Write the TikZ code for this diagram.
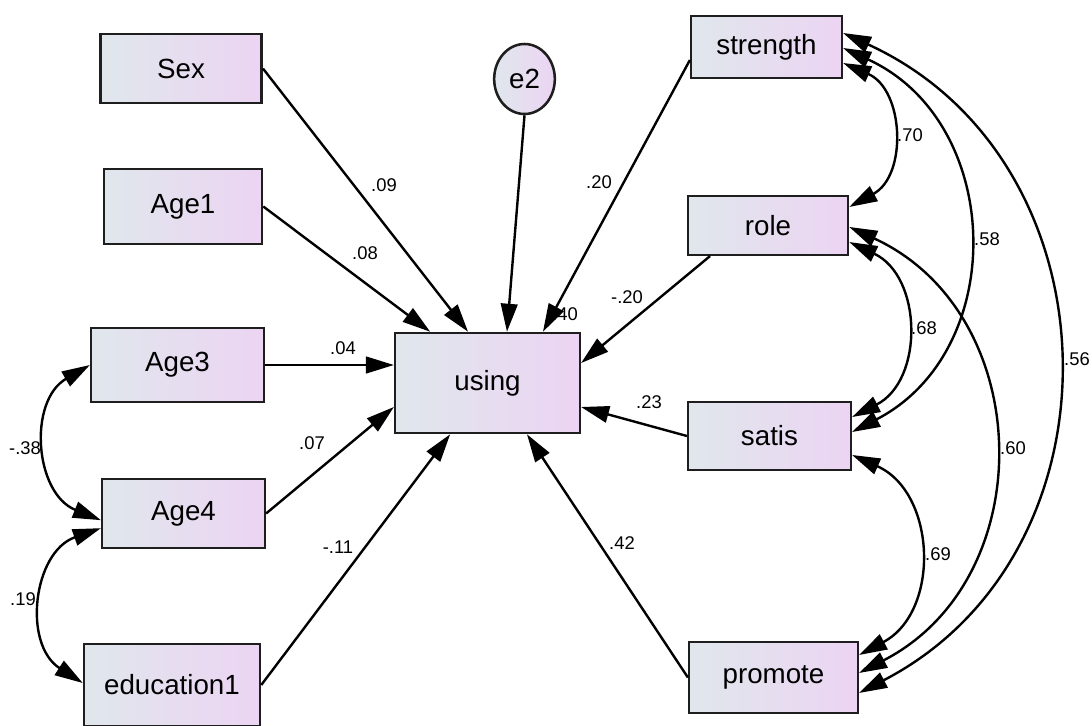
\documentclass[tikz,border=0pt]{standalone}
\usepackage{fontspec}
\setmainfont{Liberation Sans}
\usepackage{xcolor}
\usepackage{tikz}
\usetikzlibrary{arrows.meta, positioning, shapes.geometric}

\definecolor{boxleft}{RGB}{224,231,236}
\definecolor{boxright}{RGB}{236,212,243}
\definecolor{edgegray}{RGB}{30,30,30}

\begin{document}
\begin{tikzpicture}[x=0.75pt, y=0.75pt,
    obs/.style={draw=edgegray, line width=1.9pt, left color=boxleft, right color=boxright,
        font=\fontsize{20.8}{24}\selectfont, inner sep=0pt},
    reg/.style={-{Triangle[length=21pt,width=12.5pt]}, line width=1.8pt},
    cov/.style={{Triangle[length=21pt,width=12.5pt]}-{Triangle[length=21pt,width=12.5pt]},
        line width=1.8pt, looseness=1.18},
    est/.style={font=\fontsize{13.8}{16}\selectfont, inner sep=0pt}]
    \useasboundingbox (0,0) rectangle (1092,-725);

    % Observed variables
    \node[obs, minimum width=121pt, minimum height=51.5pt] (Sex) at (181,-68.5) {Sex};
    \node[obs, minimum width=118.5pt, minimum height=56pt] (Age1) at (183,-206.5) {Age1};
    \node[obs, minimum width=129.5pt, minimum height=55.5pt] (Age3) at (177.5,-365) {Age3};
    \node[obs, minimum width=122pt, minimum height=51.5pt] (Age4) at (183.5,-513.5) {Age4};
    \node[obs, minimum width=132pt, minimum height=61.5pt] (education1) at (172,-685) {education1};
    \node[obs, minimum width=138.5pt, minimum height=75pt] (using) at (487.5,-383) {using};
    \node[obs, ellipse, minimum width=45.5pt, minimum height=52.5pt] (e2) at (524.5,-79) {e2};
    \node[obs, minimum width=113pt, minimum height=46.5pt] (strength) at (766.5,-47) {strength};
    \node[obs, minimum width=120pt, minimum height=44pt] (role) at (768,-225.5) {role};
    \node[obs, minimum width=122pt, minimum height=51pt] (satis) at (769.5,-436) {satis};
    \node[obs, minimum width=126.5pt, minimum height=53pt] (promote) at (773.5,-677.5) {promote};

    % Estimates
    \node[est] (b09) at (384,-185) {.09};
    \node[est] (b08) at (365,-253) {.08};
    \node[est] (b04) at (343,-348) {.04};
    \node[est] (b07) at (312,-443) {.07};
    \node[est] (b11) at (338,-547) {-.11};
    \node[est] (b20) at (599,-182) {.20};
    \node[est] (b20n) at (627,-297) {-.20};
    \node[est] (r40) at (565,-314) {.40};
    \node[est] (b23) at (649,-402) {.23};
    \node[est] (b42) at (622,-543) {.42};
    \node[est] (c38) at (25,-448) {-.38};
    \node[est] (c19) at (23,-599) {.19};
    \node[est] (c70) at (910,-135) {.70};
    \node[est] (c58) at (987,-239) {.58};
    \node[est] (c68) at (924,-328) {.68};
    \node[est] (c56) at (1077,-359) {.56};
    \node[est] (c60) at (1013,-448) {.60};
    \node[est] (c69) at (938,-554) {.69};

    % Regression paths
    \draw[reg] (Sex.east) -- ([xshift=-14.6pt]using.north);
    \draw[reg] (Age1.east) -- ([xshift=-43pt]using.north);
    \draw[reg] (Age3.east) -- ([yshift=13.5pt]using.west);
    \draw[reg] (Age4.east) -- ([yshift=-18pt]using.west);
    \draw[reg] (education1.east) -- ([xshift=-28pt]using.south);
    \draw[reg] (e2.south) -- ([xshift=14.6pt]using.north);
    \draw[reg] ([yshift=-9.75pt]strength.west) -- ([xshift=41.6pt]using.north);
    \draw[reg] ([xshift=-43.5pt]role.south) -- ([yshift=15pt]using.east);
    \draw[reg] (satis.west) -- ([yshift=-18pt]using.east);
    \draw[reg] (promote.west) -- ([xshift=29.6pt]using.south);

    % Covariances
    \draw[cov] (Age3.west) to[bend right=64] ([yshift=-5pt]Age4.west);
    \draw[cov] ([yshift=-11pt]Age4.west) to[bend right=64] ([yshift=1.5pt]education1.west);
    \draw[cov] ([yshift=-12pt]strength.east) to[bend left=64] ([yshift=13.9pt]role.east);
    \draw[cov] ([yshift=-0.75pt]strength.east) to[bend left=64] ([yshift=3pt]satis.east);
    \draw[cov] ([yshift=10.5pt]strength.east) to[bend left=64] ([yshift=-11.6pt]promote.east);
    \draw[cov] ([yshift=-12.4pt]role.east) to[bend left=64] ([yshift=14.25pt]satis.east);
    \draw[cov] ([yshift=-1.1pt]role.east) to[bend left=64] ([yshift=3.4pt]promote.east);
    \draw[cov] ([yshift=-14.25pt]satis.east) to[bend left=64] ([yshift=16.9pt]promote.east);
\end{tikzpicture}
\end{document}
